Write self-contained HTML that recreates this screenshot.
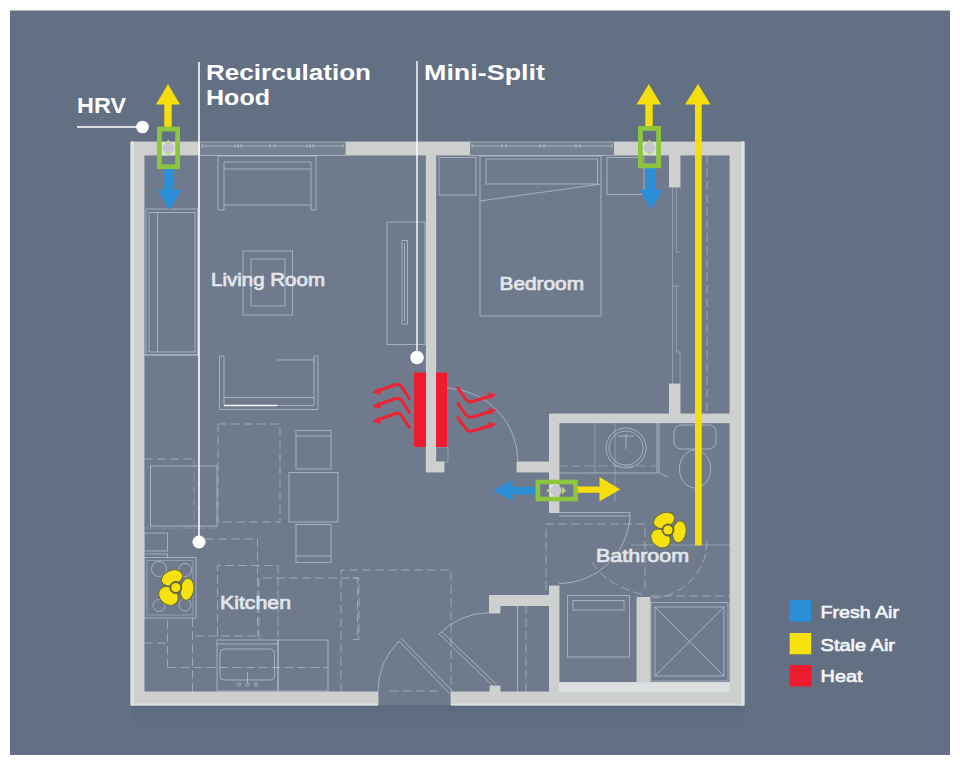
<!DOCTYPE html>
<html lang="en">
<head>
<meta charset="utf-8">
<title>Apartment ventilation diagram</title>
<style>
html,body{margin:0;padding:0;background:#ffffff;}
body{width:960px;height:766px;overflow:hidden;}
svg{display:block;}
text{font-family:"Liberation Sans",sans-serif;}
.title{font-weight:700;font-size:22.500px;fill:#ffffff;}
.room{font-weight:400;font-size:17.800px;fill:#e2e6ec;stroke:#e2e6ec;stroke-width:.7;}
.leg{font-weight:400;font-size:16.500px;fill:#f4f5f7;stroke:#f4f5f7;stroke-width:.65;}
.w1{fill:#dfe2e3;stroke:#dfe2e3;stroke-width:.7;stroke-linejoin:miter;}
.w2{fill:#cdd0ce;}
.l{fill:none;stroke:#c9d2de;stroke-width:1;stroke-opacity:.6;}
.lf{fill:none;stroke:#c9d2de;stroke-width:1;stroke-opacity:.38;}
.d{fill:none;stroke:#c9d2de;stroke-width:1;stroke-opacity:.5;stroke-dasharray:9 4;}
.heat{fill:none;stroke:#ee2233;stroke-width:3;stroke-linecap:round;stroke-linejoin:round;}
</style>
</head>
<body>
<svg width="960" height="766" viewBox="0 0 960 766">
<defs>
  <linearGradient id="shB" x1="0" y1="0" x2="0" y2="1">
    <stop offset="0" stop-color="#566277" stop-opacity=".48"/>
    <stop offset="1" stop-color="#566277" stop-opacity="0"/>
  </linearGradient>
  <g id="fan">
    <g fill="#f7e10e" stroke="#6e6d38" stroke-width="1">
    <ellipse cx="0" cy="-10.400" rx="11" ry="7.400" transform="rotate(-22)"/>
    <ellipse cx="0" cy="-11.400" rx="11" ry="6.800" transform="rotate(99)"/>
    <ellipse cx="0" cy="-11.200" rx="10.600" ry="8.600" transform="rotate(221)"/>
    </g>
    <circle cx="0" cy="0" r="6.400" fill="#62633c"/>
    <circle cx="0" cy="0" r="4.600" fill="#f7e10e"/>
  </g>
</defs>

<!-- background -->
<rect x="0" y="0" width="960" height="766" fill="#ffffff"/>
<rect x="10" y="10.500" width="940" height="744.500" fill="#636f83"/>

<!-- floor -->
<rect x="131" y="142" width="613" height="563" fill="#6f7b8d"/>
<rect x="131" y="705" width="613" height="22" fill="url(#shB)"/>

<!-- FLOORPLAN-LINES -->
<!-- windows -->
<rect x="199.500" y="142" width="146.500" height="13" fill="#ffffff" fill-opacity=".05"/>
<rect x="469.500" y="142" width="145" height="13" fill="#ffffff" fill-opacity=".05"/>
<g class="l" stroke-opacity=".8">
  <path d="M199.500 142 H346 M202 146 H343 M199.500 155.500 H346 M202 144 V148 M343 144 V148"/>
  <path d="M469.500 142 H614.500 M472 146 H612 M469.500 155.500 H614.500 M472 144 V148 M612 144 V148"/>
  <path d="M235 144 v4 M238 144 v4 M241 144 v4 M270 144 v4 M275 144 v4 M307 144 v4 M310 144 v4 M313 144 v4"/>
  <path d="M502 144 v4 M506 144 v4 M540 144 v4 M544 144 v4 M576 144 v4 M580 144 v4"/>
</g>
<!-- living room furniture -->
<g class="l">
  <path d="M218 156 H316 V210 H311 V205 H224 V210 H218 Z"/>
  <path d="M224 205 V162 H311 V205 M224 169 H311"/>
  <rect x="146" y="209" width="51.5" height="146"/>
  <rect x="149" y="212.5" width="46" height="139.5"/>
  <path d="M157.500 212.500 V352"/>
  <rect x="243" y="251" width="49.500" height="64"/>
  <rect x="251" y="259" width="34" height="47"/>
  <path d="M219.500 356 V409.500 H318 V356 H314 V405.500 H224 V356 Z"/>
  <path d="M224 397.500 H314 M277.500 360 H314 M144 355 H199"/>
  <path d="M224 405.500 H277.500" stroke="#ffffff" stroke-opacity=".9" stroke-width="1.300"/>
  <rect x="387" y="222" width="38" height="122.500"/>
  <rect x="402" y="240.500" width="5.500" height="83.500"/>
  <path d="M404.500 243 V321"/>
  <!-- dining -->
  <rect x="296" y="430.500" width="35" height="38.500"/>
  <path d="M296 436 H331"/>
  <rect x="289" y="472.500" width="49" height="49.500"/>
  <rect x="296" y="524.500" width="35" height="38"/>
  <path d="M296 556 H331"/>
  <!-- fridge -->
  <rect x="150.500" y="466" width="66.500" height="60"/>
  <!-- kitchen small -->
  <rect x="144" y="533" width="23.500" height="18"/>
  <path d="M144 554 H167.500 V557.500"/>
  <!-- stove -->
  <rect x="144" y="557.500" width="52" height="60.500"/>
  <rect x="147" y="560.500" width="46" height="54.500" class="lf"/>
  <circle cx="159" cy="569" r="7.500"/>
  <circle cx="185" cy="570" r="6.500"/>
  <circle cx="159" cy="605.500" r="6"/>
  <circle cx="185" cy="605" r="6"/>
  <!-- sink counter -->
  <rect x="217" y="640" width="61" height="51"/>
  <path d="M217 644 H278"/>
  <rect x="220" y="649" width="54.500" height="31" rx="4"/>
  <path d="M247.500 672 V683"/>
  <circle cx="239" cy="684.500" r="1.600"/>
  <circle cx="247.500" cy="684.500" r="1.600"/>
  <circle cx="256" cy="684.500" r="1.600"/>
  <rect x="278" y="640" width="50" height="51"/>
</g>
<g class="d">
  <rect x="218" y="424" width="62" height="98"/>
  <path d="M144 459 H194"/>
  <path d="M194 459 V540" stroke-opacity=".3"/>
  <path d="M205 539 H257.500 V636"/>
  <path d="M217.500 636 V565.500 H278 V636"/>
  <path d="M195 636 H259"/>
  <path d="M259 639 V578 H357.500 V639"/>
  <path d="M341 692 V570 H451 V692"/>
  <path d="M390 691 H440"/>
  <path d="M352.500 578 H359 V639.500 H352.500"/>
  <path d="M167.500 667.500 H327.500"/>
  <path d="M167.500 620 V667"/>
  <path d="M144 643 H167"/>
  <path d="M192.500 618 V692"/>
  <path d="M144 528 H217" stroke-opacity=".3"/>
</g>
<!-- bedroom -->
<g class="l">
  <rect x="439" y="157.500" width="37" height="37.500"/>
  <rect x="480" y="156" width="121" height="160"/>
  <rect x="486" y="159" width="111.500" height="25"/>
  <path d="M480 201 L601 184"/>
  <rect x="607" y="157.500" width="37" height="37"/>
  <!-- closet sliding doors -->
  <path d="M672.500 187 V384 M676.500 187 V252 H680 M672.500 286 H680 M676.500 318 V352 H680 M676.500 286 V318 M680 352 V384" class="lf"/>
</g>
<path class="d" d="M707 155 V414" stroke-opacity=".3" stroke-dasharray="12 12"/>
<!-- bathroom -->
<g class="l">
  <path d="M559 473 H657 V423 M659 423 V473 L668 477"/>
  <path d="M595 423 V473 M615 423 V502" class="lf"/>
  <circle cx="626" cy="448" r="20"/>
  <circle cx="626" cy="448" r="17"/>
  <path d="M626 434 V449 M618 436 H634" />
  <rect x="674" y="425" width="42" height="24" rx="7"/>
  <ellipse cx="695" cy="469" rx="15.600" ry="19"/>
  <path d="M559 512.500 H630 M559 516 H630"/>
  <path d="M630 512.500 A71 71 0 0 1 559 583.500"/>
  <path d="M631 545 H730" class="lf"/>
  <rect x="567.500" y="595.500" width="62" height="61.500"/>
  <rect x="573" y="600.500" width="51" height="9.500"/>
  <rect x="651" y="602.500" width="77" height="78.500"/>
  <rect x="655" y="607" width="69" height="69"/>
  <path d="M655 607 L724 676 M724 607 L655 676"/>
  <path d="M517.500 605 V692"/>
</g>
<g class="d">
  <path d="M546 590 V524 H645 V590"/>
  <path d="M707 541 A57 57 0 0 1 650 598"/>
  <path d="M592 562 Q606 586 645 595"/>
  <path d="M650 596 H730"/>
  <path d="M526 605 V692"/>
  <path d="M559 466 H657" stroke-opacity=".4"/>
</g>
<!-- doors -->
<g class="l">
  <path d="M399 641 L450 694 M401.500 638.500 L452.500 691"/>
  <path d="M378 692 A72 72 0 0 1 399 641"/>
  <path d="M439 634 L493 686 M441.500 631.500 L495.500 683.500"/>
  <path d="M439 634 A74 74 0 0 1 490 612.500"/>
  <path d="M436 447 H448 V462 H436" class="lf"/>
  <path d="M447 388 A74 74 0 0 1 518 462"/>
</g>

<!-- WALLS -->
<defs><g id="walls">
  <!-- outer shell -->
  <path d="M131 142 H199.5 V155 H144 V692 H378 V705 H131 Z"/>
  <rect x="346" y="142" width="123.5" height="13"/>
  <path d="M614.5 142 H744 V705 H451 V692 H730 V155 H614.5 Z"/>
  <!-- partition living / bedroom -->
  <path d="M426.300 148 H435.700 V462 H444 V472 H426.300 Z"/>
  <!-- closet stubs -->
  <rect x="669.5" y="150" width="10.5" height="37"/>
  <rect x="669.5" y="384" width="10.5" height="30"/>
  <!-- bathroom -->
  <path d="M549.5 414 H730 V422.700 H559 V512.5 H549.5 V472 H517 V462 H549.5 Z"/>
  <path d="M549.5 586 H559 V682.5 H637 V597.5 H650 V682.5 H730 V692 H549.5 Z"/>
  <path d="M489.5 595.5 H549.5 V605.5 H500 V613 H489.5 Z"/>
  <rect x="490" y="686" width="10" height="6"/>
</g></defs>
<use href="#walls" class="w1"/>
<use href="#walls" class="w2"/>
<g fill="#dde0e2"><rect x="559" y="682.500" width="171" height="9.500"/><rect x="130.500" y="141.500" width="3.500" height="564"/><rect x="741" y="141.500" width="3.500" height="564"/><rect x="131" y="703.500" width="247" height="2"/><rect x="451" y="703.500" width="293" height="2"/></g>

<!-- ANNOTATIONS -->
<!-- leader lines -->
<g stroke="#ffffff" stroke-width="1.600" fill="#ffffff">
  <path d="M77 127 H140" fill="none"/>
  <circle cx="142.500" cy="127" r="6.300" stroke="none"/>
  <path d="M199 62 V541" fill="none"/>
  <circle cx="199" cy="542" r="6.500" stroke="none"/>
  <path d="M417 61 V356" fill="none" stroke-width="1.400"/>
  <circle cx="417" cy="357.500" r="6.800" stroke="none"/>
</g>
<!-- HRV 1 -->
<g>
  <path d="M164.300 127 V104.500 H156 L168 84 L180 104.500 H171.700 V127 Z" fill="#f6de0c"/>
  <path d="M164.300 169 V190 H157.500 L169.500 210 L181.500 190 H173.300 V169 Z" fill="#2b8fd8"/>
  <rect x="161" y="142" width="14.500" height="13.500" fill="#dfe9cf" fill-opacity=".75"/>
  <circle cx="168.300" cy="148" r="5.800" fill="#c6c6d1"/>
  <path d="M168.300 139.500 L171 143 H165.600 Z M168.300 155.500 L171 152 H165.600 Z" fill="#b9d884"/>
  <rect x="159.400" y="129.100" width="18.200" height="37.600" fill="none" stroke="#8cc63e" stroke-width="4.800"/>
</g>
<!-- HRV 2 -->
<g>
  <path d="M645.300 127 V104.500 H636.500 L648.800 84 L661 104.500 H652.700 V127 Z" fill="#f6de0c"/>
  <path d="M646 168 V190 H639.500 L651 209.500 L662.500 190 H655 V168 Z" fill="#2b8fd8"/>
  <rect x="642" y="142" width="14.500" height="13.500" fill="#dfe9cf" fill-opacity=".75"/>
  <circle cx="649.500" cy="148" r="5.800" fill="#c6c6d1"/>
  <path d="M649.500 139.500 L652.200 143 H646.800 Z M649.500 155.500 L652.200 152 H646.800 Z" fill="#b9d884"/>
  <rect x="640.400" y="128.400" width="18.200" height="37.400" fill="none" stroke="#8cc63e" stroke-width="4.800"/>
</g>
<!-- HRV 3 (bathroom) -->
<g>
  <path d="M536 487 H512.500 V480 L493 490.500 L512.500 501 V494.500 H536 Z" fill="#2b8fd8"/>
  <path d="M577 486.500 H599.500 V477 L620.300 489.500 L599.500 501.300 V492.700 H577 Z" fill="#f6de0c"/>
  <rect x="549.500" y="484" width="9.500" height="13" fill="#dfe9cf" fill-opacity=".75"/>
  <circle cx="556" cy="490.500" r="5.600" fill="#c6c6d1"/>
  <path d="M566 490.500 L562 486.500 V494.500 Z M546.500 490.500 L550 487.500 V493.500 Z" fill="#b5d67a"/>
  <rect x="537.900" y="482" width="37.600" height="17" fill="none" stroke="#8cc63e" stroke-width="4.600"/>
</g>
<!-- long exhaust -->
<path d="M695 545.500 V104.500 H685 L698 84 L710.500 104.500 H701.700 V545.500 Z" fill="#f6de0c"/>
<!-- fans -->
<use href="#fan" x="175.800" y="587.500"/>
<use href="#fan" x="668" y="530"/>
<!-- mini split -->
<rect x="414" y="372.500" width="12" height="74.500" fill="#ee1c2e"/>
<rect x="436" y="372.500" width="11" height="74.500" fill="#ee1c2e"/>
<g class="heat">
  <path id="hl" d="M409.300 398.400 L401.500 386.500 Q399.500 383.500 395.500 384.500 L376 391.500"/>
  <use href="#hl" y="14"/>
  <use href="#hl" y="29"/>
  <path id="hr" d="M457.900 388.200 L466 399.500 Q468.500 402.500 472.500 401.500 L492 395.500"/>
  <use href="#hr" y="15.500"/>
  <use href="#hr" y="29.500"/>
</g>
<g fill="#ee2233">
  <path id="al" d="M372.500 392.800 L379.300 387.800 L380.800 394.800 Z"/>
  <use href="#al" y="14"/>
  <use href="#al" y="29"/>
  <path id="ar" d="M496 394.200 L488.200 392.200 L490.200 399.300 Z"/>
  <use href="#ar" y="15.500"/>
  <use href="#ar" y="29.500"/>
</g>
<!-- legend swatches -->
<rect x="789.700" y="600" width="21.500" height="21.700" fill="#2b8fd8"/>
<rect x="789.700" y="633" width="21.500" height="21.300" fill="#f8e30e"/>
<rect x="789.700" y="665" width="21.500" height="21.500" fill="#ec1b2e"/>

<!-- TEXT -->
<text class="title" x="77" y="112.500" textLength="49" lengthAdjust="spacingAndGlyphs">HRV</text>
<text class="title" x="206" y="79.500" textLength="165" lengthAdjust="spacingAndGlyphs">Recirculation</text>
<text class="title" x="206" y="104.500" textLength="64" lengthAdjust="spacingAndGlyphs">Hood</text>
<text class="title" x="424" y="80" textLength="121" lengthAdjust="spacingAndGlyphs">Mini-Split</text>
<text class="room" x="211" y="286" textLength="114" lengthAdjust="spacingAndGlyphs">Living Room</text>
<text class="room" x="499.500" y="289.500" textLength="84.500" lengthAdjust="spacingAndGlyphs">Bedroom</text>
<text class="room" x="220" y="609" textLength="71" lengthAdjust="spacingAndGlyphs">Kitchen</text>
<text class="room" x="596" y="562" textLength="93" lengthAdjust="spacingAndGlyphs">Bathroom</text>
<text class="leg" x="820.600" y="618" textLength="78.400" lengthAdjust="spacingAndGlyphs">Fresh Air</text>
<text class="leg" x="820.600" y="651" textLength="74.400" lengthAdjust="spacingAndGlyphs">Stale Air</text>
<text class="leg" x="820.600" y="682" textLength="42" lengthAdjust="spacingAndGlyphs">Heat</text>

</svg>
</body>
</html>
